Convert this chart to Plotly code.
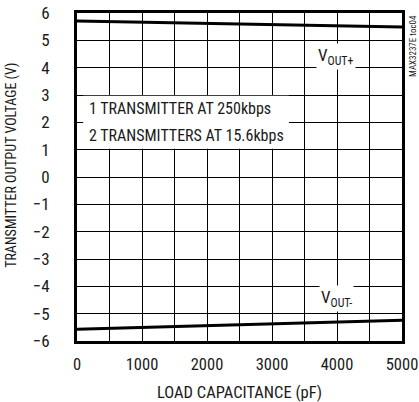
import plotly.graph_objects as go

load_pf = [0, 1000, 2000, 3000, 4000, 5000]
vout_plus = [5.71, 5.67, 5.62, 5.58, 5.53, 5.49]
vout_minus = [-5.57, -5.50, -5.44, -5.37, -5.31, -5.24]

x_ticks = [0, 1000, 2000, 3000, 4000, 5000]
y_ticks = [-6, -5, -4, -3, -2, -1, 0, 1, 2, 3, 4, 5, 6]

FONT = "Liberation Sans Narrow, Arial Narrow, Roboto Condensed, Liberation Sans, sans-serif"
INK = "#1a1a1a"

fig = go.Figure()
fig.add_trace(go.Scatter(x=load_pf, y=vout_plus, mode="lines",
                         line=dict(color="black", width=3), showlegend=False))
fig.add_trace(go.Scatter(x=load_pf, y=vout_minus, mode="lines",
                         line=dict(color="black", width=3), showlegend=False))

# white box behind the condition text
fig.add_shape(type="rect", xref="x", yref="y", x0=95, x1=3260, y0=1.03, y1=2.97,
              fillcolor="white", line=dict(width=0), layer="between")

fig.add_annotation(x=0.03, y=0.708, xref="paper", yref="paper",
                   text="1 TRANSMITTER AT 250kbps", showarrow=False,
                   xanchor="left", yanchor="middle",
                   font=dict(family=FONT, size=16, color=INK))
fig.add_annotation(x=0.03, y=0.627, xref="paper", yref="paper",
                   text="2 TRANSMITTERS AT 15.6kbps", showarrow=False,
                   xanchor="left", yanchor="middle",
                   font=dict(family=FONT, size=16, color=INK))
fig.add_annotation(x=3990, y=4.42, text="V<sub>OUT+</sub>", showarrow=False,
                   bgcolor="white", borderpad=1,
                   font=dict(family=FONT, size=17, color=INK))
fig.add_annotation(x=3990, y=-4.45, text="V<sub>OUT-</sub>", showarrow=False,
                   bgcolor="white", borderpad=1,
                   font=dict(family=FONT, size=17, color=INK))
fig.add_annotation(x=1.0, y=1.0, xref="paper", yref="paper", xshift=11,
                   text="MAX3237E toc04", showarrow=False, textangle=-90,
                   xanchor="center", yanchor="top",
                   font=dict(family=FONT, size=9, color=INK))
# y-axis title
fig.add_annotation(x=0, y=0.534, xref="paper", yref="paper", xshift=-65,
                   text="TRANSMITTER OUTPUT VOLTAGE (V)", showarrow=False,
                   textangle=-90, xanchor="center", yanchor="middle",
                   font=dict(family=FONT, size=14, color=INK))

fig.update_xaxes(range=[0, 5000], tickvals=x_ticks, ticks="",
                 showgrid=True, gridcolor="black", gridwidth=1,
                 minor=dict(dtick=500, showgrid=True, gridcolor="black", gridwidth=1),
                 showline=True, linecolor="black", linewidth=3, mirror=True,
                 zeroline=False, ticklabelstandoff=6, ticklabeloverflow="allow",
                 tickfont=dict(family=FONT, size=16.5, color=INK),
                 title=dict(text="LOAD CAPACITANCE (pF)", standoff=16,
                            font=dict(family=FONT, size=16.5, color=INK)))
fig.update_yaxes(range=[-6, 6], tickvals=y_ticks, ticks="",
                 showgrid=True, gridcolor="black", gridwidth=1,
                 showline=True, linecolor="black", linewidth=3, mirror=True,
                 zeroline=False, ticklabelstandoff=21,
                 tickfont=dict(family=FONT, size=17, color=INK))

fig.update_layout(width=419, height=402,
                  margin=dict(l=77, r=17, t=13, b=61, autoexpand=False),
                  plot_bgcolor="white", paper_bgcolor="white")

fig.write_html("out.html", config={"displayModeBar": False},
               post_script="document.body.style.margin='0px';")
